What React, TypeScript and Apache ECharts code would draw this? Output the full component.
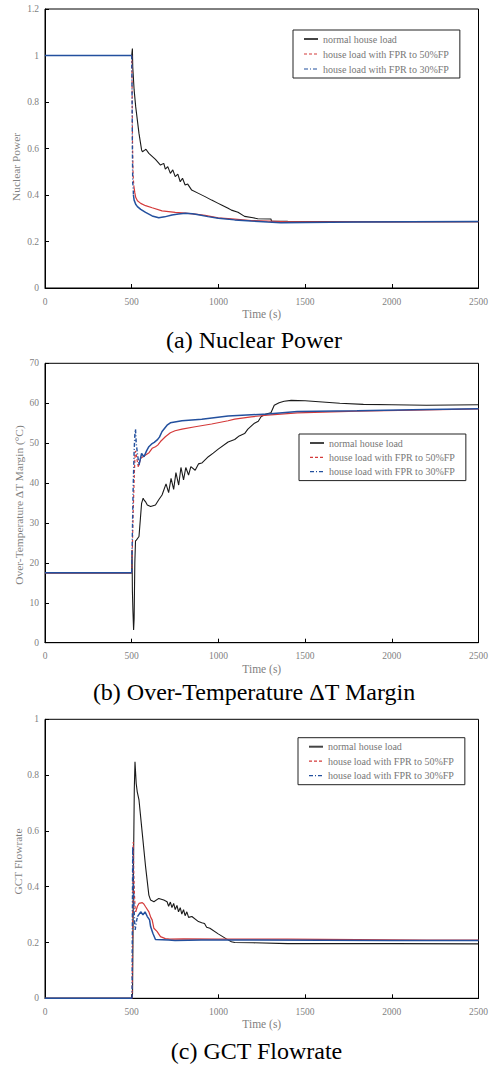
import React, { useEffect, useRef } from "react";
import * as echarts from "echarts";

const FONT = "'Liberation Serif', 'Times New Roman', serif";
const GRAY = "#7f7f7f";
const BLACK = "#1a1a1a";
const RED = "#d43a3a";
const BLUE = "#23509e";

const seriesNames = [
  "normal house load",
  "house load with FPR to 50%FP",
  "house load with FPR to 30%FP",
];
const captions = ["(a) Nuclear Power", "(b) Over-Temperature ΔT Margin", "(c) GCT Flowrate"];
const yNames = ["Nuclear Power", "Over-Temperature ΔT Margin (°C)", "GCT Flowrate"];
const xName = "Time (s)";
const xRange = [0, 2500, 500];
const yRanges = [
  [0, 1.2, 0.2],
  [0, 70, 10],
  [0, 1, 0.2],
];

// ---------- (a) Nuclear Power ----------
const npNormal = [
  [0, 1], [500, 1], [503, 1.0], [504, 1.03], [506, 0.95], [514, 0.852], [523, 0.78],
  [542, 0.665], [557, 0.594], [562, 0.586], [577, 0.594], [582, 0.597], [599, 0.579],
  [637, 0.553], [666, 0.529], [685, 0.536], [694, 0.511], [708, 0.522], [723, 0.493],
  [737, 0.508], [751, 0.479], [766, 0.49], [780, 0.457], [793, 0.472], [808, 0.443],
  [823, 0.447], [846, 0.421], [885, 0.407], [923, 0.393], [961, 0.378], [999, 0.364],
  [1018, 0.357], [1056, 0.343], [1075, 0.335], [1113, 0.326], [1151, 0.308],
  [1200, 0.302], [1227, 0.298], [1303, 0.297], [1306, 0.288], [1400, 0.287],
  [1600, 0.286], [1800, 0.285], [2000, 0.285], [2200, 0.285], [2500, 0.285],
];
const np50Pre = [[0, 1], [500, 1]];
const np50Jump = [[500, 1], [502, 0.9], [505, 0.6], [508, 0.49], [512, 0.44]];
const np50Post = [
  [512, 0.44], [518, 0.41], [523, 0.39], [533, 0.375], [552, 0.364], [580, 0.354],
  [618, 0.345], [675, 0.332], [751, 0.325], [809, 0.322], [866, 0.318], [923, 0.312],
  [999, 0.302], [1094, 0.296], [1189, 0.29], [1284, 0.288], [1400, 0.285],
  [1600, 0.285], [2000, 0.284], [2500, 0.285],
];
const np30Pre = [[0, 1], [500, 1]];
const np30Jump = [[500, 1], [502, 0.85], [504, 0.6], [506, 0.45], [508, 0.44], [510, 0.4]];
const np30Post = [
  [510, 0.4], [514, 0.378], [523, 0.36], [533, 0.35], [552, 0.338], [580, 0.325],
  [618, 0.31], [656, 0.302], [690, 0.306], [732, 0.314], [770, 0.318], [809, 0.321],
  [850, 0.319], [885, 0.315], [940, 0.307], [999, 0.3], [1094, 0.293], [1189, 0.288],
  [1284, 0.284], [1360, 0.281], [1500, 0.282], [1800, 0.284], [2100, 0.285], [2500, 0.286],
];

// ---------- (b) Over-Temperature ΔT Margin ----------
const otNormal = [
  [0, 17.5], [500, 17.5], [502, 23.2], [504, 13], [507, 8], [511, 3.2], [514, 6],
  [518, 20], [522, 25.5], [527, 25.7], [542, 26.6], [550, 31], [557, 34.9], [566, 36.2],
  [571, 35.8], [580, 35.3], [590, 34.5], [609, 34.1], [637, 34.5], [656, 35.8],
  [675, 37], [698, 39.8], [713, 37.6], [727, 41.2], [742, 38.4], [755, 42.6],
  [771, 39.5], [784, 43.9], [799, 40.8], [812, 43.9], [828, 42], [841, 44.1],
  [866, 43.2], [885, 44.8], [904, 45], [942, 46.6], [970, 47.5], [999, 48.5],
  [1056, 50.3], [1094, 50.9], [1120, 51.8], [1151, 52.4], [1170, 53.5], [1208, 55],
  [1230, 55.5], [1246, 56.6], [1270, 57.2], [1303, 57.6], [1312, 58.5], [1322, 59.5],
  [1350, 60.1], [1379, 60.5], [1420, 60.7], [1500, 60.6], [1600, 60.3], [1700, 60.0],
  [1836, 59.7], [2000, 59.6], [2200, 59.5], [2500, 59.6],
];
const ot50Pre = [[0, 17.5], [500, 17.5]];
const ot50Jump = [
  [500, 17.5], [503, 22], [508, 32], [515, 42], [520, 47.8], [523, 48], [530, 46], [538, 44.1],
];
const ot50Post = [
  [538, 44.1], [552, 46.2], [580, 47], [600, 47.6], [618, 48.7], [637, 49.1],
  [650, 49.5], [666, 50.4], [694, 51.6], [723, 52.6], [750, 53.1], [790, 53.5],
  [866, 54.1], [961, 54.8], [1056, 55.6], [1094, 56], [1189, 56.6], [1284, 57],
  [1455, 57.6], [1800, 58], [2200, 58.3], [2500, 58.6],
];
const ot30Pre = [[0, 17.5], [500, 17.5]];
const ot30Jump = [
  [500, 17.5], [503, 25], [508, 38], [514, 48], [518, 52], [522, 53.5], [526, 50],
  [533, 47.4], [542, 44.5],
];
const ot30Post = [
  [542, 44.5], [557, 47.4], [571, 46.6], [585, 48], [599, 49.1], [618, 49.9],
  [630, 50.2], [647, 50.8], [660, 51.5], [675, 52.9], [704, 54.5], [723, 55.1],
  [790, 55.6], [904, 56], [1056, 56.8], [1284, 57.3], [1455, 57.9], [1800, 58.1],
  [2200, 58.4], [2500, 58.6],
];

// ---------- (c) GCT Flowrate ----------
const gctNormal = [
  [0, 0], [503, 0], [505, 0.02], [510, 0.45], [515, 0.75], [519, 0.848], [526, 0.77],
  [532, 0.74], [542, 0.711], [561, 0.591], [580, 0.472], [599, 0.37], [609, 0.352],
  [628, 0.346], [656, 0.358], [685, 0.352], [704, 0.346], [713, 0.33], [723, 0.345],
  [732, 0.325], [742, 0.34], [751, 0.318], [761, 0.333], [770, 0.31], [780, 0.325],
  [789, 0.302], [799, 0.318], [808, 0.296], [818, 0.31], [828, 0.29], [847, 0.293],
  [885, 0.275], [904, 0.271], [920, 0.268], [932, 0.255], [951, 0.251], [999, 0.231],
  [1046, 0.213], [1075, 0.203], [1094, 0.2], [1200, 0.199], [1400, 0.196],
  [1600, 0.196], [2000, 0.196], [2500, 0.195],
];
const gct50Pre = [[0, 0], [503, 0]];
const gct50Jump = [
  [503, 0], [506, 0.3], [509, 0.56], [512, 0.45], [516, 0.37], [520, 0.32], [523, 0.31],
];
const gct50Post = [
  [523, 0.31], [533, 0.33], [542, 0.34], [561, 0.343], [570, 0.338], [580, 0.328],
  [599, 0.31], [610, 0.29], [618, 0.281], [628, 0.251], [647, 0.239], [666, 0.221],
  [694, 0.214], [720, 0.212], [800, 0.213], [1000, 0.212], [1400, 0.212],
  [1800, 0.21], [2200, 0.209], [2500, 0.209],
];
const gct30Pre = [[0, 0], [502, 0]];
const gct30Jump = [
  [502, 0], [504, 0.3], [506, 0.543], [509, 0.45], [513, 0.33], [517, 0.27],
  [520, 0.245], [526, 0.27], [533, 0.293],
];
const gct30Post = [
  [533, 0.293], [552, 0.31], [565, 0.299], [577, 0.31], [590, 0.293], [603, 0.281],
  [609, 0.257], [622, 0.233], [637, 0.211], [713, 0.209], [750, 0.207], [900, 0.209],
  [1200, 0.209], [1600, 0.208], [2000, 0.207], [2500, 0.207],
];

const charts = [
  { normal: npNormal, f50: [np50Pre, np50Jump, np50Post], f30: [np30Pre, np30Jump, np30Post] },
  { normal: otNormal, f50: [ot50Pre, ot50Jump, ot50Post], f30: [ot30Pre, ot30Jump, ot30Post] },
  { normal: gctNormal, f50: [gct50Pre, gct50Jump, gct50Post], f30: [gct30Pre, gct30Jump, gct30Post] },
];

// layout
const gridTops = [9, 363.3, 719.3];
const gridHeights = [279, 279.4, 279];
const gridLeft = 45;
const gridWidth = 438;
const legendBoxes = [
  { left: 293, top: 30, gap: 5 },
  { left: 299, top: 434, gap: 4.3 },
  { left: 298, top: 737.7, gap: 4.5 },
];
const yNamePos = [
  [16, 167],
  [19.3, 505],
  [17.5, 861.5],
];
const captionPos = [
  [254, 339.5],
  [254, 691.5],
  [256.5, 1051],
];

const DASH = [3, 2];
const DASHDOT = [4, 2, 1, 2];

function lineSeries(name: string, data: number[][], gi: number, color: string, width: number, type: any) {
  return {
    type: "line",
    name,
    data,
    xAxisIndex: gi,
    yAxisIndex: gi,
    symbol: "none",
    showSymbol: false,
    silent: true,
    lineStyle: { color, width, type },
    itemStyle: { color },
    emphasis: { disabled: true },
  };
}

const plainNumber = (v: number) => String(Math.round(v * 1000) / 1000);

function buildOption() {
  const series: any[] = [];
  charts.forEach((c, gi) => {
    series.push(lineSeries(seriesNames[0], c.normal, gi, BLACK, 1.1, "solid"));
    series.push(lineSeries(seriesNames[1], c.f50[0], gi, RED, 1.2, "solid"));
    series.push(lineSeries(seriesNames[1], c.f50[1], gi, RED, 1.2, DASH));
    series.push(lineSeries(seriesNames[1], c.f50[2], gi, RED, 1.2, "solid"));
  });
  charts.forEach((c, gi) => {
    series.push(lineSeries(seriesNames[2], c.f30[0], gi, BLUE, 1.5, "solid"));
    series.push(lineSeries(seriesNames[2], c.f30[1], gi, BLUE, 1.4, DASHDOT));
    series.push(lineSeries(seriesNames[2], c.f30[2], gi, BLUE, 1.5, "solid"));
  });

  const legendData = [
    { name: seriesNames[0], lineStyle: { color: "#444", width: 2, type: "solid" }, itemStyle: { opacity: 0, borderWidth: 0 } },
    { name: seriesNames[1], lineStyle: { color: RED, width: 1.2, type: DASH }, itemStyle: { opacity: 0, borderWidth: 0 } },
    { name: seriesNames[2], lineStyle: { color: BLUE, width: 1.2, type: DASHDOT }, itemStyle: { opacity: 0, borderWidth: 0 } },
  ];

  const graphic: any[] = [];
  yNames.forEach((t, i) => {
    graphic.push({
      type: "text",
      x: yNamePos[i][0],
      y: yNamePos[i][1],
      rotation: Math.PI / 2,
      silent: true,
      style: { text: t, fill: GRAY, fontSize: 11.4, fontFamily: FONT, align: "center", verticalAlign: "middle" },
    });
  });
  captions.forEach((t, i) => {
    graphic.push({
      type: "text",
      x: captionPos[i][0],
      y: captionPos[i][1],
      silent: true,
      style: { text: t, fill: "#000", fontSize: 24, fontFamily: FONT, align: "center", verticalAlign: "middle" },
    });
  });

  return {
    animation: false,
    backgroundColor: "#fff",
    textStyle: { fontFamily: FONT },
    grid: gridTops.map((top, i) => ({
      left: gridLeft,
      top,
      width: gridWidth,
      height: gridHeights[i],
      show: true,
      borderColor: "#000",
      borderWidth: 1,
      backgroundColor: "transparent",
      containLabel: false,
    })),
    xAxis: [0, 1, 2].map((i) => ({
      type: "value",
      gridIndex: i,
      min: xRange[0],
      max: xRange[1],
      interval: xRange[2],
      name: xName,
      nameLocation: "middle",
      nameGap: 20,
      nameTextStyle: { color: GRAY, fontFamily: FONT, fontSize: 11.5 },
      axisLine: { show: true, onZero: false, lineStyle: { color: "#000", width: 1 } },
      axisTick: { show: true, inside: true, length: 4, lineStyle: { color: "#000", width: 1 } },
      axisLabel: { color: GRAY, fontFamily: FONT, fontSize: 9.5, margin: i === 1 ? 8 : 8.5, formatter: plainNumber },
      splitLine: { show: false },
    })),
    yAxis: [0, 1, 2].map((i) => ({
      type: "value",
      gridIndex: i,
      min: yRanges[i][0],
      max: yRanges[i][1],
      interval: yRanges[i][2],
      axisLine: { show: true, onZero: false, lineStyle: { color: "#000", width: 1 } },
      axisTick: { show: true, inside: true, length: 4, lineStyle: { color: "#000", width: 1 } },
      axisLabel: { color: GRAY, fontFamily: FONT, fontSize: 9.5, margin: 6, formatter: plainNumber },
      splitLine: { show: false },
    })),
    legend: legendBoxes.map((b) => ({
      orient: "vertical",
      left: b.left,
      top: b.top,
      padding: [4, 11, 4, 10],
      itemGap: b.gap,
      itemWidth: 14,
      itemHeight: 10,
      borderColor: "#222",
      borderWidth: 1,
      backgroundColor: "#fff",
      selectedMode: false,
      textStyle: { fontFamily: FONT, fontSize: 10, color: "#777" },
      data: legendData,
    })),
    graphic,
    series,
  };
}

export default function App() {
  const ref = useRef<HTMLDivElement>(null);
  useEffect(() => {
    document.body.style.margin = "0";
    const chart = echarts.init(ref.current!, null, { renderer: "svg" });
    chart.setOption(buildOption() as any);
    return () => chart.dispose();
  }, []);
  return <div ref={ref} style={{ width: 491, height: 1065, position: "absolute", left: 0, top: 0 }} />;
}
